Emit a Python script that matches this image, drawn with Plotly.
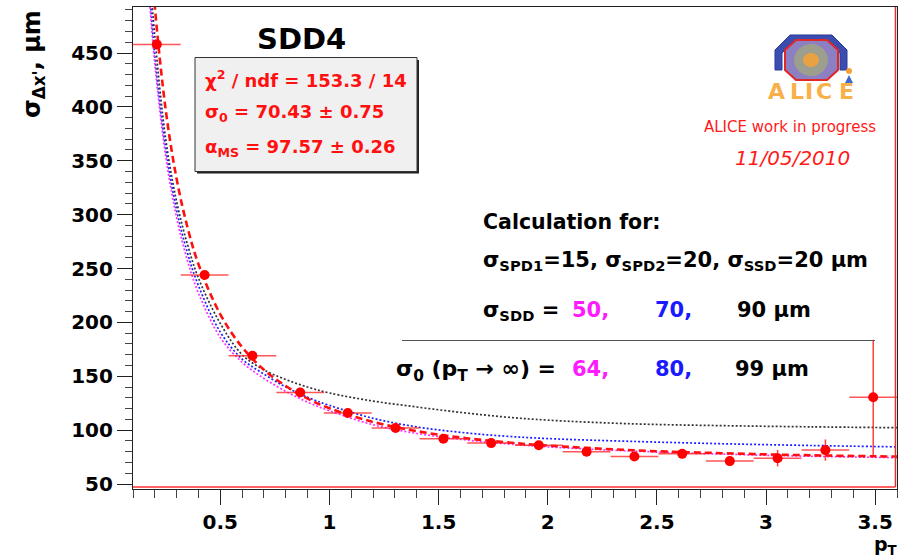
import plotly.graph_objects as go

# ---------------- data ----------------
pt_centers = [0.209, 0.428, 0.647, 0.866, 1.084, 1.303, 1.522, 1.741,
              1.959, 2.178, 2.397, 2.616, 2.834, 3.053, 3.272, 3.491]
pt_halfwidth = [0.109375] * 16
sigma_vals = [458, 244, 169, 135, 116, 102, 92, 88, 86, 80, 75.5, 78, 71.3, 74, 81.5, 130.5]
sigma_errs = [3, 3, 2.5, 2, 2, 1.5, 1.5, 1.5, 2, 2, 2.5, 3, 4, 7.7, 9.9, 53.5]

curve_pt = [0.17, 0.2, 0.25, 0.3, 0.35, 0.4, 0.5, 0.6, 0.7, 0.8, 0.9, 1.0,
            1.2, 1.4, 1.6, 1.8, 2.0, 2.4, 2.8, 3.2, 3.6]
fit_red = [578, 493, 397, 333, 288, 254, 207.5, 177, 156, 141, 129.3, 120.3,
           107.6, 99.1, 93.2, 88.9, 85.7, 81.3, 78.6, 76.7, 75.5]
calc_sdd50 = [515, 440, 354, 297, 257, 227, 186, 163, 148, 136, 126, 118,
              105, 97, 91.5, 87.5, 84.5, 80.5, 77.8, 75.8, 74.5]
calc_sdd70 = [525, 447, 361, 304, 264, 234, 191, 166, 152, 140, 130.5, 123,
              111, 103, 98, 94.5, 92.2, 89.5, 87.4, 85.8, 84.5]
calc_sdd90 = [540, 465, 370, 312, 272, 241, 199, 170, 156, 147, 140, 134.5,
              127, 121.5, 116.5, 112.3, 109.3, 105.8, 104.2, 103.1, 102.3]

y_ticks = [50, 100, 150, 200, 250, 300, 350, 400, 450]
x_ticks = [0.5, 1, 1.5, 2, 2.5, 3, 3.5]
x_tick_labels = ["0.5", "1", "1.5", "2", "2.5", "3", "3.5"]

# ---------------- layout geometry ----------------
W, H = 905, 557
L, R, T, B = 133, 8, 7, 68
PW, PH = W - L - R, H - T - B


def px(x):
    return (x - L) / PW


def py(y):
    return (H - B - y) / PH


FONT = "DejaVu Sans"

fig = go.Figure()

fig.add_trace(go.Scatter(x=curve_pt, y=calc_sdd90, mode="lines",
                         line=dict(color="#333333", width=1.7, dash="2px,2px", shape="spline"),
                         showlegend=False, hoverinfo="skip"))
fig.add_trace(go.Scatter(x=curve_pt, y=calc_sdd70, mode="lines",
                         line=dict(color="#2020ff", width=1.7, dash="2px,2px", shape="spline"),
                         showlegend=False, hoverinfo="skip"))
fig.add_trace(go.Scatter(x=curve_pt, y=calc_sdd50, mode="lines",
                         line=dict(color="#ff30ff", width=1.7, dash="2px,2px", shape="spline"),
                         showlegend=False, hoverinfo="skip"))
fig.add_trace(go.Scatter(x=curve_pt, y=fit_red, mode="lines",
                         line=dict(color="#ff1010", width=2.6, dash="7px,4px", shape="spline"),
                         showlegend=False, hoverinfo="skip"))
fig.add_trace(go.Scatter(x=pt_centers, y=sigma_vals, mode="markers",
                         marker=dict(color="#ff0000", size=10, line=dict(width=0)),
                         error_x=dict(type="data", array=pt_halfwidth, color="rgba(255,30,30,0.75)",
                                      thickness=1.5, width=0),
                         error_y=dict(type="data", array=sigma_errs, color="rgba(255,30,30,0.85)",
                                      thickness=1.5, width=0),
                         showlegend=False))

shapes = []
# red border lines along bottom and right of frame
shapes.append(dict(type="line", xref="paper", yref="paper", x0=0, x1=0.998, y0=0.004, y1=0.004,
                   line=dict(color="#ff3030", width=1.5)))
shapes.append(dict(type="line", xref="paper", yref="paper", x0=0.998, x1=0.998, y0=0.004, y1=1,
                   line=dict(color="#e03030", width=1.5)))
# stats box shadow + box
shapes.append(dict(type="rect", xref="paper", yref="paper", x0=px(197), x1=px(419), y0=py(173.5), y1=py(60),
                   line=dict(width=0), fillcolor="#222222"))
shapes.append(dict(type="rect", xref="paper", yref="paper", x0=px(195), x1=px(417), y0=py(171.5), y1=py(57.5),
                   line=dict(color="#333333", width=1), fillcolor="#f0f0f0"))
# separator line
shapes.append(dict(type="line", xref="paper", yref="paper", x0=px(402), x1=px(875), y0=py(340.5), y1=py(340.5),
                   line=dict(color="#555555", width=1.2)))


# ALICE logo (simple drawing)
def poly(points):
    s = "M " + " L ".join(f"{px(a):.5f},{py(b):.5f}" for a, b in points) + " Z"
    return s


shapes.append(dict(type="path", xref="paper", yref="paper",
                   path=poly([(775, 70), (775, 50), (790, 35), (832, 35), (847, 50), (847, 70),
                              (840, 70), (840, 53), (829, 42), (793, 42), (782, 53), (782, 70)]),
                   fillcolor="#3c4db0", line=dict(color="#2a3a9a", width=1)))
shapes.append(dict(type="path", xref="paper", yref="paper",
                   path=poly([(796, 40), (827, 40), (838, 50), (838, 70), (827, 80), (796, 80), (785, 70), (785, 50)]),
                   fillcolor="#8c7fc2", line=dict(color="#e02828", width=2)))
shapes.append(dict(type="circle", xref="paper", yref="paper", x0=px(794), x1=px(828), y0=py(76), y1=py(44),
                   fillcolor="#a9b46a", line=dict(width=0), opacity=0.6))
shapes.append(dict(type="circle", xref="paper", yref="paper", x0=px(803), x1=px(819), y0=py(67), y1=py(53),
                   fillcolor="#f2a23a", line=dict(width=0), opacity=0.9))
shapes.append(dict(type="circle", xref="paper", yref="paper", x0=px(846), x1=px(852), y0=py(74), y1=py(68),
                   fillcolor="#f2a23a", line=dict(width=0)))
shapes.append(dict(type="path", xref="paper", yref="paper",
                   path=poly([(845, 83), (853, 83), (849, 75)]),
                   fillcolor="#3c6ad0", line=dict(width=0)))

ann = []


def text(x, y, s, size, color="black", xanchor="left", bold=True, italic=False, angle=0, family=FONT):
    if bold:
        s = "<b>" + s + "</b>"
    if italic:
        s = "<i>" + s + "</i>"
    ann.append(dict(x=px(x), y=py(y), xref="paper", yref="paper", text=s, showarrow=False,
                    xanchor=xanchor, yanchor="middle", textangle=angle,
                    font=dict(family=family, size=size, color=color)))


# title
text(301.5, 39, "SDD4", 29, xanchor="center")
# stats text
text(203, 79, "χ<sup>2</sup> / ndf = 153.3 / 14", 18, color="#ff1010")
text(203, 113, "σ<sub>0</sub> = 70.43 ± 0.75", 18, color="#ff1010")
text(203, 148, "α<sub>MS</sub> = 97.57 ± 0.26", 18, color="#ff1010")

# ALICE logo letters
for ch, cx in zip("ALICE", [776.7, 796.5, 809, 824, 846.7]):
    text(cx, 91, ch, 22, color="#f7b04a", xanchor="center")
text(790, 127, "ALICE work in progress", 15, color="#ff1a1a", xanchor="center", bold=False)
text(792.5, 158, "11/05/2010", 20, color="#ff1a1a", xanchor="center", bold=False, italic=True)

# calculation block
text(481, 222, "Calculation for:", 20.5)
text(481, 261, "σ<sub>SPD1</sub>=15, σ<sub>SPD2</sub>=20, σ<sub>SSD</sub>=20 μm", 21)
text(481, 311, "σ<sub>SDD</sub> =", 21)
text(570, 310, "50,", 21, color="#ff1aff")
text(653, 310, "70,", 21, color="#1a1aff")
text(735, 310, "90 μm", 21)
text(394, 370, "σ<sub>0</sub> (p<sub>T</sub> → ∞) =", 22)
text(570, 369, "64,", 21, color="#ff1aff")
text(653, 369, "80,", 21, color="#1a1aff")
text(733, 369, "99 μm", 21)

# axis titles
text(33, 64, "σ<sub>Δx'</sub>, μm", 24, angle=-90, xanchor="center")
text(885, 545, "p<sub>T</sub>", 19, xanchor="center")

fig.update_layout(
    width=W, height=H, autosize=False,
    margin=dict(l=L, r=R, t=T, b=B, pad=0, autoexpand=False),
    paper_bgcolor="white", plot_bgcolor="white",
    shapes=shapes, annotations=ann,
    font=dict(family=FONT),
)
fig.update_xaxes(range=[0.1, 3.6], showgrid=False, zeroline=False, automargin=False,
                 showline=True, linecolor="#222222", linewidth=1.2, mirror=True,
                 ticks="outside", ticklen=15, tickwidth=1.2, tickcolor="#222222",
                 tickvals=x_ticks, ticktext=x_tick_labels,
                 tickfont=dict(family=FONT, size=20, color="black", weight="bold"),
                 minor=dict(ticks="outside", ticklen=8, dtick=0.1, tick0=0.1, tickcolor="#444444", tickwidth=1))
fig.update_yaxes(range=[45.4, 492.7], showgrid=False, zeroline=False, automargin=False,
                 showline=True, linecolor="#222222", linewidth=1.2, mirror=True,
                 ticks="outside", ticklen=15, tickwidth=1.2, tickcolor="#222222",
                 tickvals=y_ticks,
                 tickfont=dict(family=FONT, size=20, color="black", weight="bold"),
                 minor=dict(ticks="outside", ticklen=7, dtick=10, tick0=50, tickcolor="#444444", tickwidth=1))

fig.write_html("out.html")
